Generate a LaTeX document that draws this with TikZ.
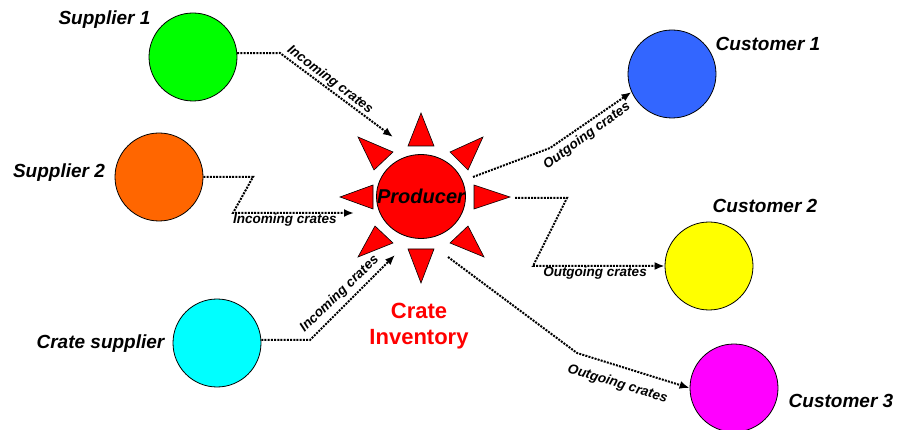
\documentclass[tikz,border=0pt]{standalone}
\usepackage{fontspec}
\setmainfont{Liberation Sans}
\usetikzlibrary{arrows.meta,shapes.geometric}
\begin{document}
\begin{tikzpicture}[x=1pt,y=-1pt,
  party/.style={circle,draw=black,line width=0.8pt,minimum size=88pt,inner sep=0pt},
  plabel/.style={font=\fontsize{19}{22}\selectfont\bfseries\itshape, inner sep=0pt, anchor=base},
  clabel/.style={font=\fontsize{13.5}{15}\selectfont\bfseries\itshape, inner sep=0pt},
  conn/.style={line width=2pt, dash pattern=on 2pt off 1.2pt, -{Latex[length=10pt,width=8pt]}},
  ray/.style={fill=red, draw=black, line width=0.6pt}]
\useasboundingbox (0,0) rectangle (902,430);

% parties
\node[party, fill={rgb,255:red,0;green,255;blue,0}] (s1) at (193,57) {};
\node[party, fill={rgb,255:red,255;green,102;blue,0}] (s2) at (159,177) {};
\node[party, fill={rgb,255:red,0;green,255;blue,255}] (cs) at (217,343) {};
\node[party, fill={rgb,255:red,51;green,102;blue,255}] (c1) at (672,74) {};
\node[party, fill={rgb,255:red,255;green,255;blue,0}] (c2) at (709,266) {};
\node[party, fill={rgb,255:red,255;green,0;blue,255}] (c3) at (734,388) {};

% sun rays
\draw[ray] (408,146) -- (434,146) -- (421,113) -- cycle;
\draw[ray] (408,249) -- (434,249) -- (421,283) -- cycle;
\draw[ray] (373,185) -- (373,209) -- (340,197) -- cycle;
\draw[ray] (474,185) -- (474,209) -- (510,197) -- cycle;
\draw[ray] (358,137) -- (393,152) -- (374,170) -- cycle;
\draw[ray] (483,137) -- (450,152) -- (468,170) -- cycle;
\draw[ray] (358,257) -- (393,243) -- (375,226) -- cycle;
\draw[ray] (484,257) -- (450,243) -- (468,226) -- cycle;

% producer
\node[ellipse, draw=black, line width=0.8pt, fill=red, minimum width=89pt, minimum height=84pt, inner sep=0pt] (prod) at (421,196.5) {};
\node[font=\fontsize{20}{22}\selectfont\bfseries\itshape, inner sep=0pt] (prodtxt) at (prod.center) {Producer};

% labels of parties
\node[plabel] (ls1) at (104.5,25) {Supplier 1};
\node[plabel] (ls2) at (59,178) {Supplier 2};
\node[plabel] (lcs) at (100.5,348) {Crate supplier};
\node[plabel] (lc1) at (768,51) {Customer 1};
\node[plabel] (lc2) at (765,213) {Customer 2};
\node[plabel] (lc3) at (841,407) {Customer 3};

\node[align=center, text=red, font=\fontsize{22}{26}\selectfont\bfseries] (inv) at (419,326) {Crate\\Inventory};

% connector end points near the producer
\coordinate (i1) at (393,137);
\coordinate (i2) at (354,213);
\coordinate (i3) at (395,255);
\coordinate (o1) at (473,177);
\coordinate (o2) at (515,198);
\coordinate (o3) at (448,257);

% incoming
\draw[conn] (s1.5) -- (280,53) -- (i1);
\draw[conn] (s2.east) -- (253,177) -- (233,213) -- (i2);
\draw[conn] (cs.4) -- (310,340) -- (i3);
% outgoing
\draw[conn] (o1) -- (550,148) -- (c1.204);
\draw[conn] (o2) -- (567,198) -- (533,266) -- (c2.west);
\draw[conn] (o3) -- (577,353) -- (c3.west);

% connector labels
\node[clabel, rotate=-37] (t1) at (330,80) {Incoming crates};
\node[clabel, anchor=base] (t2) at (285,224) {Incoming crates};
\node[clabel, rotate=44] (t3) at (339.5,294) {Incoming crates};
\node[clabel, rotate=36] (t4) at (587,136) {Outgoing crates};
\node[clabel, anchor=base] (t5) at (595,277) {Outgoing crates};
\node[clabel, rotate=-17] (t6) at (617.5,384) {Outgoing crates};
\end{tikzpicture}
\end{document}
